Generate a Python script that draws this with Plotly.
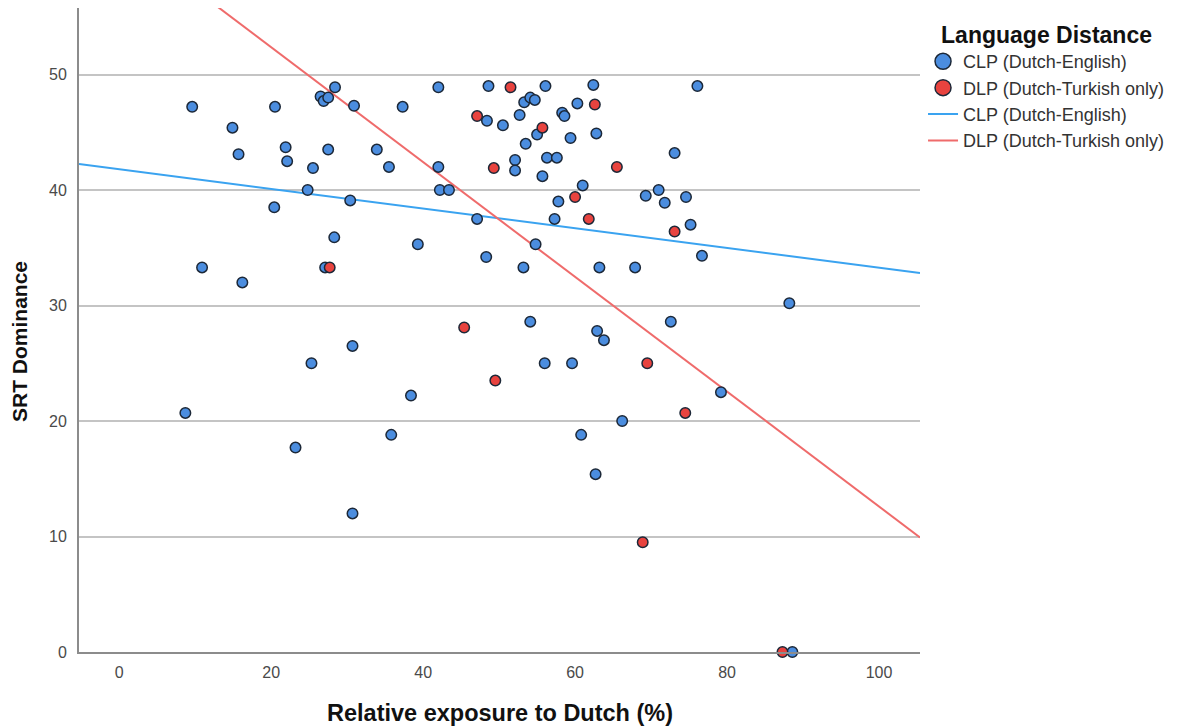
import plotly.graph_objects as go

# ---- data ----
clp_x = [9.6, 20.5, 14.9, 15.7, 21.9, 22.1, 25.5, 24.8, 27.5, 20.4, 30.4, 28.3, 28.4, 26.5, 26.9,
         27.5, 30.9, 42.0, 37.3, 48.6, 56.1, 62.4, 53.3, 54.1, 54.7, 48.4, 50.5, 52.7, 55.0, 58.3,
         58.6, 60.3, 62.8, 59.4, 53.5, 56.3, 57.6, 52.1, 52.1, 55.7, 33.9, 35.5, 42.0, 42.2, 43.4,
         61.0, 57.8, 69.3, 47.1, 57.3, 39.3, 54.8, 48.3, 76.1, 73.1, 71.0, 71.8, 74.6, 75.2, 76.7,
         10.9, 16.2, 27.1, 30.7, 25.3, 8.7, 23.2, 53.2, 63.2, 67.9, 54.1, 62.9, 63.8, 56.0, 59.6,
         38.4, 35.8, 60.8, 66.2, 88.2, 72.6, 79.2, 30.7, 62.7, 88.6]
clp_y = [47.2, 47.2, 45.4, 43.1, 43.7, 42.5, 41.9, 40.0, 43.5, 38.5, 39.1, 35.9, 48.9, 48.1, 47.7,
         48.0, 47.3, 48.9, 47.2, 49.0, 49.0, 49.1, 47.6, 48.0, 47.8, 46.0, 45.6, 46.5, 44.8, 46.7,
         46.4, 47.5, 44.9, 44.5, 44.0, 42.8, 42.8, 42.6, 41.7, 41.2, 43.5, 42.0, 42.0, 40.0, 40.0,
         40.4, 39.0, 39.5, 37.5, 37.5, 35.3, 35.3, 34.2, 49.0, 43.2, 40.0, 38.9, 39.4, 37.0, 34.3,
         33.3, 32.0, 33.3, 26.5, 25.0, 20.7, 17.7, 33.3, 33.3, 33.3, 28.6, 27.8, 27.0, 25.0, 25.0,
         22.2, 18.8, 18.8, 20.0, 30.2, 28.6, 22.5, 12.0, 15.4, 0.0]

dlp_x = [51.5, 47.1, 55.7, 62.6, 49.3, 65.5, 60.0, 61.8, 73.1, 27.7, 45.4, 69.5, 49.5, 74.5, 68.9, 87.3]
dlp_y = [48.9, 46.4, 45.4, 47.4, 41.9, 42.0, 39.4, 37.5, 36.4, 33.3, 28.1, 25.0, 23.5, 20.7, 9.5, 0.0]

group_names = ["CLP (Dutch-English)", "DLP (Dutch-Turkish only)"]
clp_fit = [41.8, -0.0852]   # intercept, slope
dlp_fit = [62.3, -0.497]    # intercept, slope

x_ticks = [0, 20, 40, 60, 80, 100]
y_ticks = [0, 10, 20, 30, 40, 50]
x_range = [-5.3, 105.4]
y_range = [0, 55.76]

# ---- figure ----
font_family = "Liberation Sans, Arial, sans-serif"
blue_fill = "#4b8ddf"
red_fill = "#e8433f"
blue_line = "#3aa3f0"
red_line = "#ef6b6b"
edge = "#1c2838"

fig = go.Figure()

line_x = list(x_range)
fig.add_trace(go.Scatter(
    x=line_x, y=[clp_fit[0] + clp_fit[1] * v for v in line_x],
    mode="lines", line=dict(color=blue_line, width=2),
    name=group_names[0], legendrank=3))
fig.add_trace(go.Scatter(
    x=line_x, y=[dlp_fit[0] + dlp_fit[1] * v for v in line_x],
    mode="lines", line=dict(color=red_line, width=2),
    name=group_names[1], legendrank=4))

fig.add_trace(go.Scatter(
    x=clp_x, y=clp_y, mode="markers", cliponaxis=False, showlegend=False,
    marker=dict(size=10.5, color=blue_fill, line=dict(color=edge, width=1.5)),
    name=group_names[0]))
fig.add_trace(go.Scatter(
    x=dlp_x, y=dlp_y, mode="markers", cliponaxis=False, showlegend=False,
    marker=dict(size=10.5, color=red_fill, line=dict(color=edge, width=1.5)),
    name=group_names[1]))

# legend-only entries with larger symbols (as in the reference legend)
fig.add_trace(go.Scatter(
    x=[None], y=[None], mode="markers",
    marker=dict(size=16, color=blue_fill, line=dict(color=edge, width=1.5)),
    name=group_names[0], legendrank=1))
fig.add_trace(go.Scatter(
    x=[None], y=[None], mode="markers",
    marker=dict(size=16, color=red_fill, line=dict(color=edge, width=1.5)),
    name=group_names[1], legendrank=2))

# the page body adds an 8px offset, so the figure is sized to fill the rest of the window
fig.update_layout(
    width=1174, height=719,
    margin=dict(l=71, r=262, t=0, b=75, autoexpand=False),
    plot_bgcolor="white", paper_bgcolor="white",
    font=dict(family=font_family, color="#333333"),
    xaxis=dict(range=x_range, tickvals=x_ticks, showgrid=False, zeroline=False,
               showline=True, linecolor="#8c8c8c", linewidth=2, ticks="",
               tickfont=dict(size=16, color="#4a4a4a"), ticklabelstandoff=5),
    yaxis=dict(range=y_range, tickvals=y_ticks, showgrid=True, gridcolor="#c4c4c4",
               gridwidth=1.5, zeroline=False, showline=True, linecolor="#8c8c8c",
               linewidth=2, ticks="", tickfont=dict(size=16, color="#4a4a4a"),
               ticklabelstandoff=7),
    legend=dict(x=1.0036, xanchor="left", y=0.992, yanchor="top",
                title=dict(text="<b>Language Distance</b>", side="top center",
                           font=dict(size=23, color="#111111")),
                font=dict(size=18, color="#333333"), tracegroupgap=0,
                itemsizing="trace", bgcolor="rgba(0,0,0,0)"),
    annotations=[
        dict(text="<b>Relative exposure to Dutch (%)</b>", xref="paper", yref="paper",
             x=0.5, y=(652 - 713) / 644, xanchor="center", yanchor="middle",
             showarrow=False, font=dict(size=23.5, color="#111111")),
        dict(text="<b>SRT Dominance</b>", xref="paper", yref="paper",
             x=(20 - 79) / 841, y=(652 - 342) / 644, xanchor="center", yanchor="middle",
             textangle=-90, showarrow=False, font=dict(size=21, color="#111111")),
    ],
)

fig.write_html("out.html")
